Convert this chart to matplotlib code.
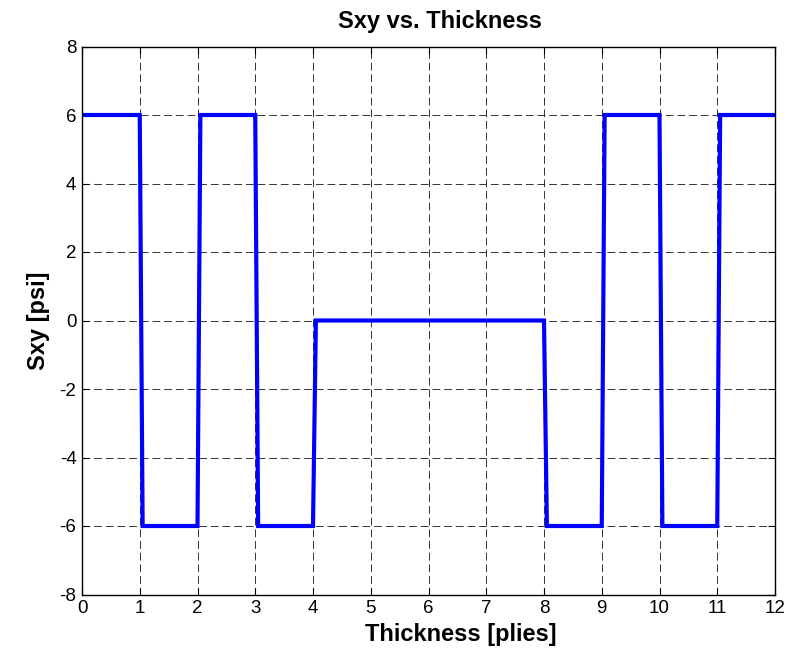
import matplotlib
matplotlib.use("Agg")
import matplotlib.pyplot as plt

# Shear stress Sxy through the laminate thickness (ply boundaries)
thickness = [0, 1, 1.05, 2, 2.05, 3, 3.05, 4, 4.05, 8, 8.05, 9, 9.05, 10, 10.05, 11, 11.05, 12]
sxy = [6, 6, -6, -6, 6, 6, -6, -6, 0, 0, -6, -6, 6, 6, -6, -6, 6, 6]

x_ticks = list(range(0, 13))
y_ticks = list(range(-8, 9, 2))

plt.rcParams['font.family'] = ['Liberation Sans', 'DejaVu Sans']
plt.rcParams['axes.unicode_minus'] = False

fig = plt.figure(figsize=(7.9, 6.56), dpi=100)
ax = fig.add_axes([82 / 790, 1 - 594.5 / 656, (775 - 82) / 790, (594.5 - 46.5) / 656])

ax.plot(thickness, sxy, color='#0000ff', linewidth=3.0, solid_joinstyle='miter')

ax.set_xlim(0, 12)
ax.set_ylim(-8, 8)
ax.set_xticks(x_ticks)
ax.set_yticks(y_ticks)
ax.tick_params(direction='in', top=True, right=True, length=5, width=0.8,
               labelsize=13.5, pad=4)
ax.grid(True, color='#333333', linestyle=(0, (8, 4)), linewidth=0.7)
for s in ax.spines.values():
    s.set_linewidth(1.0)

ax.set_title('Sxy vs. Thickness', fontsize=17, fontweight='bold', pad=13)
ax.title.set_x(0.517)
ax.set_xlabel('Thickness [plies]', fontsize=17, fontweight='bold', labelpad=1)
ax.xaxis.set_label_coords(0.547, -0.052)
ax.xaxis.label.set_va('top')
ax.set_ylabel('Sxy [psi]', fontsize=17, fontweight='bold', labelpad=7)

fig.savefig('out.png', dpi=100)
